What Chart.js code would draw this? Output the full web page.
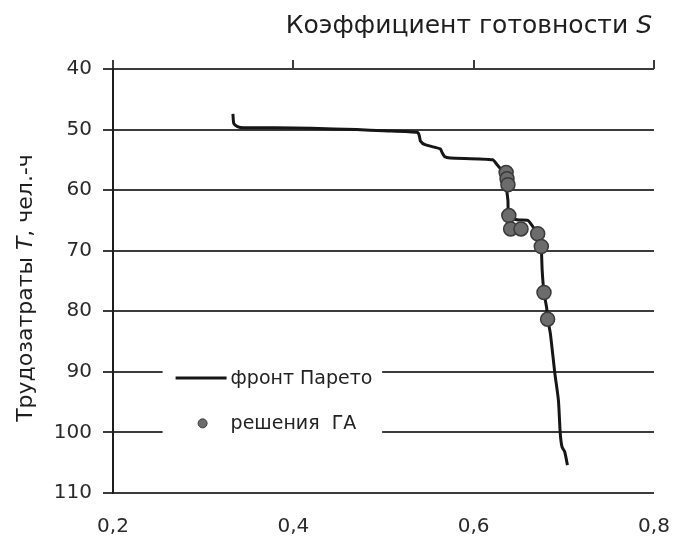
<!DOCTYPE html>
<html><head><meta charset="utf-8">
<script src="https://cdn.jsdelivr.net/npm/chart.js@4.4.1/dist/chart.umd.min.js"></script>
<style>html,body{margin:0;padding:0;background:#fff}#wrap{width:684px;height:541px;position:relative}</style>
</head><body><div id="wrap"><canvas id="c" width="684" height="541"></canvas></div>
<script>
// Pareto front (S, T)
const paretoS = [0.333,0.334,0.338,0.345,0.380,0.420,0.470,0.500,0.538,0.540,0.541,0.546,0.563,0.565,0.568,0.574,0.621,0.626,0.630,0.635,0.636,0.636,0.638,0.639,0.648,0.660,0.665,0.671,0.674,0.675,0.676,0.678,0.681,0.682,0.685,0.690,0.694,0.696,0.698,0.701,0.704];
const paretoT = [47.4,49.0,49.5,49.7,49.7,49.8,50.0,50.2,50.5,51.2,51.9,52.5,53.2,53.8,54.5,54.7,55.0,55.8,56.5,57.1,57.8,59.1,61.7,64.2,64.9,65.0,65.9,67.2,68.3,69.3,73.3,76.9,79.5,81.3,83.6,90.2,94.7,100.1,102.4,103.2,105.4];
// GA solutions (S, T)
const gaS = [0.636,0.637,0.638,0.639,0.641,0.6525,0.671,0.675,0.678,0.682];
const gaT = [57.1,58.1,59.1,64.2,66.4,66.4,67.2,69.3,76.9,81.3];
// ticks
const xTickValues = [0.2,0.4,0.6,0.8];
const yTickValues = [40,50,60,70,80,90,100,110];
// texts
const xTitleMain = 'Коэффициент готовности ';
const xTitleVar = 'S';
const yTitleMain = 'Трудозатраты ';
const yTitleVar = 'T';
const yTitleTail = ', чел.-ч';
const seriesNames = ['фронт Парето', 'решения  ГА'];

const FONT = "'DejaVu Sans', Verdana, sans-serif";
const GRID = '#3c3c3c';

const toXY = (xs, ys) => xs.map((x, i) => ({x: x, y: ys[i]}));

const titlesAndLegend = {
  id: 'titlesAndLegend',
  beforeDatasetsDraw(chart) {
    const ctx = chart.ctx;
    const x = chart.scales.x, y = chart.scales.y;
    const lx = x.getPixelForValue(0.255), lr = x.getPixelForValue(0.4985);
    const ly = y.getPixelForValue(88.2), lb = y.getPixelForValue(102.9);
    ctx.save();
    ctx.fillStyle = '#ffffff';
    ctx.fillRect(lx, ly, lr - lx, lb - ly);
    const ds0 = chart.data.datasets[0], ds1 = chart.data.datasets[1];
    const r1 = y.getPixelForValue(91.0), r2 = y.getPixelForValue(98.5);
    ctx.strokeStyle = ds0.borderColor; ctx.lineWidth = ds0.borderWidth;
    ctx.beginPath(); ctx.moveTo(lx + 13, r1); ctx.lineTo(lx + 64, r1); ctx.stroke();
    ctx.fillStyle = ds1.backgroundColor; ctx.strokeStyle = ds1.borderColor; ctx.lineWidth = 1;
    ctx.beginPath(); ctx.arc(lx + 40, r2, 4.5, 0, Math.PI * 2); ctx.fill(); ctx.stroke();
    ctx.fillStyle = '#222'; ctx.font = '19px ' + FONT; ctx.textBaseline = 'middle'; ctx.textAlign = 'left';
    ctx.fillText(seriesNames[0], lx + 68, r1 + 1);
    ctx.fillText(seriesNames[1], lx + 68, r2 + 1);
    ctx.restore();
  },
  afterDraw(chart) {
    const ctx = chart.ctx;
    const area = chart.chartArea;
    ctx.save();
    ctx.fillStyle = '#1e1e1e';
    ctx.textBaseline = 'alphabetic';
    const fN = '25px ' + FONT, fI = 'italic 25px ' + FONT;
    ctx.font = fN; const w1 = ctx.measureText(xTitleMain).width;
    ctx.font = fI; const w2 = ctx.measureText(xTitleVar).width;
    let sx = area.right - 2 - w1 - w2;
    ctx.font = fN; ctx.fillText(xTitleMain, sx, 33);
    ctx.font = fI; ctx.fillText(xTitleVar, sx + w1, 33);
    const gN = '22px ' + FONT, gI = 'italic 22px ' + FONT;
    ctx.font = gN; const a = ctx.measureText(yTitleMain).width, c = ctx.measureText(yTitleTail).width;
    ctx.font = gI; const b = ctx.measureText(yTitleVar).width;
    const tot = a + b + c;
    ctx.translate(32, 288); ctx.rotate(-Math.PI / 2);
    let p = -tot / 2;
    ctx.font = gN; ctx.fillText(yTitleMain, p, 0); p += a;
    ctx.font = gI; ctx.fillText(yTitleVar, p, 0); p += b;
    ctx.font = gN; ctx.fillText(yTitleTail, p, 0);
    ctx.restore();
  }
};

const noPad = s => { s.paddingLeft = 0; s.paddingRight = 0; s.paddingTop = 0; s.paddingBottom = 0; };

new Chart(document.getElementById('c'), {
  type: 'scatter',
  data: {
    datasets: [
      { label: seriesNames[0], data: toXY(paretoS, paretoT), showLine: true, borderColor: '#161616', backgroundColor: '#161616', borderWidth: 3, pointRadius: 0, tension: 0.2, order: 2 },
      { label: seriesNames[1], data: toXY(gaS, gaT), showLine: false, backgroundColor: '#6c6c6c', borderColor: '#3a3a3a', borderWidth: 1.5, pointRadius: 7, order: 1 }
    ]
  },
  options: {
    responsive: false, animation: false, devicePixelRatio: 1,
    layout: { padding: { left: 0, right: 30, top: 0, bottom: 0 } },
    plugins: { legend: { display: false }, tooltip: { enabled: false }, title: { display: false } },
    scales: {
      x: {
        type: 'linear', position: 'bottom', min: 0.2, max: 0.8,
        afterBuildTicks: s => { s.ticks = xTickValues.map(v => ({value: v})); },
        ticks: { font: { family: FONT, size: 20 }, color: '#2a2a2a', padding: 22, callback: v => v.toFixed(1).replace('.', ','), maxRotation: 0 },
        grid: { display: false, drawTicks: false },
        border: { display: false },
        afterFit: s => { s.height = 48; noPad(s); }
      },
      x2: {
        type: 'linear', position: 'top', min: 0.2, max: 0.8,
        afterBuildTicks: s => { s.ticks = xTickValues.map(v => ({value: v})); },
        ticks: { display: false },
        grid: { display: true, drawOnChartArea: false, drawTicks: true, tickLength: 9, color: GRID, lineWidth: 2 },
        border: { display: false },
        afterFit: s => { s.height = 69; noPad(s); }
      },
      y: {
        type: 'linear', position: 'left', reverse: true, min: 40, max: 110,
        afterBuildTicks: s => { s.ticks = yTickValues.map(v => ({value: v})); },
        ticks: { font: { family: FONT, size: 20 }, color: '#2a2a2a', padding: 11 },
        grid: { color: GRID, lineWidth: 2, tickLength: 10 },
        border: { display: true, color: '#1e1e1e', width: 2 },
        afterFit: s => { s.width = 113; noPad(s); }
      }
    }
  },
  plugins: [titlesAndLegend]
});
</script>
</body></html>
